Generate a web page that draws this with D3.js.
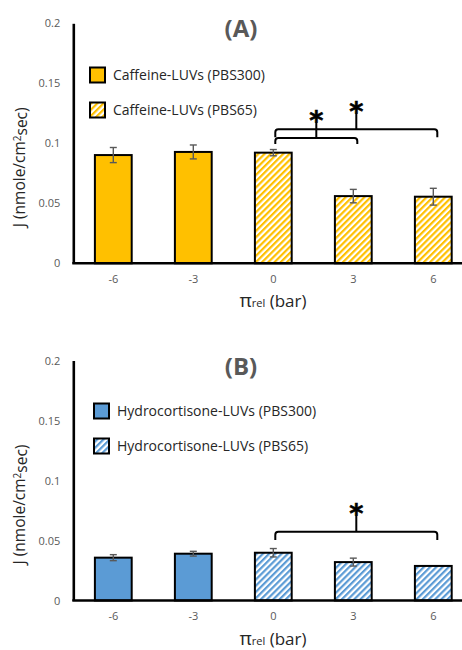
<!DOCTYPE html>
<html>
<head>
<meta charset="utf-8">
<script src="https://cdn.jsdelivr.net/npm/d3@7"></script>
<style>
  html, body { margin: 0; padding: 0; background: #fff; }
  svg { display: block; font-family: "Open Sans", "Noto Sans", sans-serif; }
</style>
</head>
<body>
<svg id="chart" width="462" height="650"></svg>
<script>
// ---------------- data ----------------
const categories = ["-6", "-3", "0", "3", "6"];
const yTicks = [0, 0.05, 0.1, 0.15, 0.2];

// Panel A: caffeine
const caffeineValues = [0.0902, 0.0928, 0.0922, 0.0560, 0.0555];
const caffeineErrors = [0.0063, 0.0058, 0.0026, 0.0056, 0.0070];
const caffeineGroups = ["PBS300", "PBS300", "PBS65", "PBS65", "PBS65"];
const caffeineLegend = ["Caffeine-LUVs (PBS300)", "Caffeine-LUVs (PBS65)"];

// Panel B: hydrocortisone
const hydroValues = [0.0357, 0.0390, 0.0398, 0.0320, 0.0288];
const hydroErrors = [0.0025, 0.0020, 0.0035, 0.0033, 0.0000];
const hydroGroups = ["PBS300", "PBS300", "PBS65", "PBS65", "PBS65"];
const hydroLegend = ["Hydrocortisone-LUVs (PBS300)", "Hydrocortisone-LUVs (PBS65)"];

// significance brackets: from/to categories, bracket level, end-drop level, stem top
const caffeineBrackets = [
  { from: "0", to: "3", level: 0.1045, drop: 0.0994, stem: 0.1178 },
  { from: "0", to: "6", level: 0.1118, drop: 0.105, stem: 0.1253 }
];
const hydroBrackets = [
  { from: "0", to: "6", level: 0.0573, drop: 0.0504, stem: 0.0712 }
];

// ---------------- drawing ----------------
const svg = d3.select("#chart");
const defs = svg.append("defs");

function makePattern(id, color) {
  const p = defs.append("pattern")
    .attr("id", id)
    .attr("patternUnits", "userSpaceOnUse")
    .attr("width", 4.4).attr("height", 4.4)
    .attr("patternTransform", "rotate(45)");
  p.append("rect").attr("width", 4.4).attr("height", 4.4).attr("fill", "#fff");
  p.append("rect").attr("x", 0).attr("y", 0).attr("width", 2.2).attr("height", 4.4).attr("fill", color);
}

function drawPanel(cfg) {
  const color = cfg.color;
  const patId = cfg.id + "-hatch";
  makePattern(patId, color);
  const fillFor = g => g === "PBS300" ? color : `url(#${patId})`;

  const g = svg.append("g");
  const x = d3.scaleBand().domain(categories)
    .range([cfg.left, cfg.left + 400])
    .paddingInner(0.54).paddingOuter(0.27);
  const y = d3.scaleLinear().domain([0, 0.2]).range([cfg.bottom, cfg.top]);

  // y axis
  const yAxis = g.append("g").attr("transform", `translate(${cfg.left},0)`)
    .call(d3.axisLeft(y).tickValues(yTicks).tickSize(0).tickPadding(13)
      .tickFormat(d => d === 0 ? "0" : d3.format("")(+d.toFixed(2))));
  yAxis.select(".domain").attr("stroke", "#000").attr("stroke-width", 2.6);
  yAxis.selectAll("text").attr("fill", "#595959").style("font-size", "11px")
    .style("font-family", '"Open Sans", sans-serif');

  // bars
  const data = categories.map((c, i) => ({ c, v: cfg.values[i], e: cfg.errors[i], grp: cfg.groups[i] }));
  g.selectAll("rect.bar").data(data).enter().append("rect")
    .attr("class", "bar")
    .attr("x", d => x(d.c))
    .attr("width", x.bandwidth())
    .attr("y", d => y(d.v))
    .attr("height", d => y(0) - y(d.v))
    .attr("fill", d => fillFor(d.grp))
    .attr("stroke", "#000").attr("stroke-width", 2);

  // x axis
  const xAxis = g.append("g").attr("transform", `translate(0,${cfg.bottom})`)
    .call(d3.axisBottom(x).tickSize(0).tickPadding(12));
  xAxis.select(".domain").attr("stroke", "#000").attr("stroke-width", 2.6)
    .attr("d", `M${cfg.left - 1},0H${cfg.left + 400}`);
  xAxis.selectAll("text").attr("fill", "#595959").style("font-size", "11px")
    .style("font-family", '"Open Sans", sans-serif');

  // error bars
  const eb = g.selectAll("g.err").data(data.filter(d => d.e > 0)).enter().append("g")
    .attr("stroke", "#595959").attr("stroke-width", 1.4).attr("fill", "none");
  const cx = d => x(d.c) + x.bandwidth() / 2;
  eb.append("line").attr("x1", cx).attr("x2", cx)
    .attr("y1", d => y(d.v + d.e)).attr("y2", d => y(d.v - d.e));
  eb.append("line").attr("x1", d => cx(d) - 3.5).attr("x2", d => cx(d) + 3.5)
    .attr("y1", d => y(d.v + d.e)).attr("y2", d => y(d.v + d.e));
  eb.append("line").attr("x1", d => cx(d) - 3.5).attr("x2", d => cx(d) + 3.5)
    .attr("y1", d => y(d.v - d.e)).attr("y2", d => y(d.v - d.e));

  // brackets
  cfg.brackets.forEach(b => {
    const x1 = x(b.from) + x.bandwidth() / 2 + 2;
    const x2 = x(b.to) + x.bandwidth() / 2 + 4;
    const xm = (x1 + x2) / 2;
    g.append("path")
      .attr("d", `M${x1},${y(b.drop)}V${y(b.level) + 3}Q${x1},${y(b.level)} ${x1 + 3},${y(b.level)}` +
                 `H${x2 - 3}Q${x2},${y(b.level)} ${x2},${y(b.level) + 3}V${y(b.drop)}`)
      .attr("fill", "none").attr("stroke", "#000").attr("stroke-width", 2);
    g.append("path")
      .attr("d", `M${xm},${y(b.level)}V${y(b.stem)}`)
      .attr("fill", "none").attr("stroke", "#000").attr("stroke-width", 2);
    g.append("text")
      .attr("x", xm).attr("y", y(b.stem) + 8)
      .attr("text-anchor", "middle")
      .style("font-size", "27px").style("font-weight", "bold")
      .style("font-family", '"DejaVu Sans", sans-serif')
      .attr("fill", "#000").attr("stroke", "#000").attr("stroke-width", 0.6)
      .text("*");
  });

  // title
  g.append("text").attr("x", 241).attr("y", cfg.top + 14)
    .attr("text-anchor", "middle")
    .style("font-size", "24px").style("font-weight", "bold")
    .attr("fill", "#595959").text(cfg.title);

  // legend
  cfg.legend.forEach((t, i) => {
    const ly = cfg.legendTop + i * 35;
    g.append("rect").attr("x", cfg.legendX).attr("y", ly)
      .attr("width", 15).attr("height", 15)
      .attr("fill", i === 0 ? color : `url(#${patId})`)
      .attr("stroke", "#000").attr("stroke-width", 2);
    g.append("text").attr("x", cfg.legendX + 23).attr("y", ly + 8)
      .attr("dy", "0.35em").attr("fill", "#262626")
      .style("font-size", "14px").text(t);
  });

  // y label
  const yl = g.append("text")
    .attr("transform", `translate(${cfg.ylabelX},${(cfg.top + cfg.bottom) / 2 + 24}) rotate(-90)`)
    .attr("text-anchor", "middle").attr("fill", "#262626")
    .style("font-size", "15.5px");
  yl.append("tspan").text("J (nmole/cm");
  yl.append("tspan").attr("dy", "-0.4em").style("font-size", "10px").text("2");
  yl.append("tspan").attr("dy", "0.4em").text("sec)");

  // x label
  const xl = g.append("text").attr("x", 273).attr("y", cfg.bottom + 44)
    .attr("text-anchor", "middle").attr("fill", "#262626")
    .style("font-size", "17px");
  xl.append("tspan").style("font-size", "19px").text("π");
  xl.append("tspan").style("font-size", "11px").text("rel");
  xl.append("tspan").text(" (bar)");
}

drawPanel({
  id: "A", title: "(A)", color: "#FFC000",
  values: caffeineValues, errors: caffeineErrors, groups: caffeineGroups,
  legend: caffeineLegend, brackets: caffeineBrackets,
  left: 73.3, top: 23.3, bottom: 263.3,
  legendX: 90, legendTop: 67.5, ylabelX: 25
});

drawPanel({
  id: "B", title: "(B)", color: "#5B9BD5",
  values: hydroValues, errors: hydroErrors, groups: hydroGroups,
  legend: hydroLegend, brackets: hydroBrackets,
  left: 73.3, top: 360.5, bottom: 600.5,
  legendX: 94, legendTop: 403.5, ylabelX: 25
});
</script>
</body>
</html>
